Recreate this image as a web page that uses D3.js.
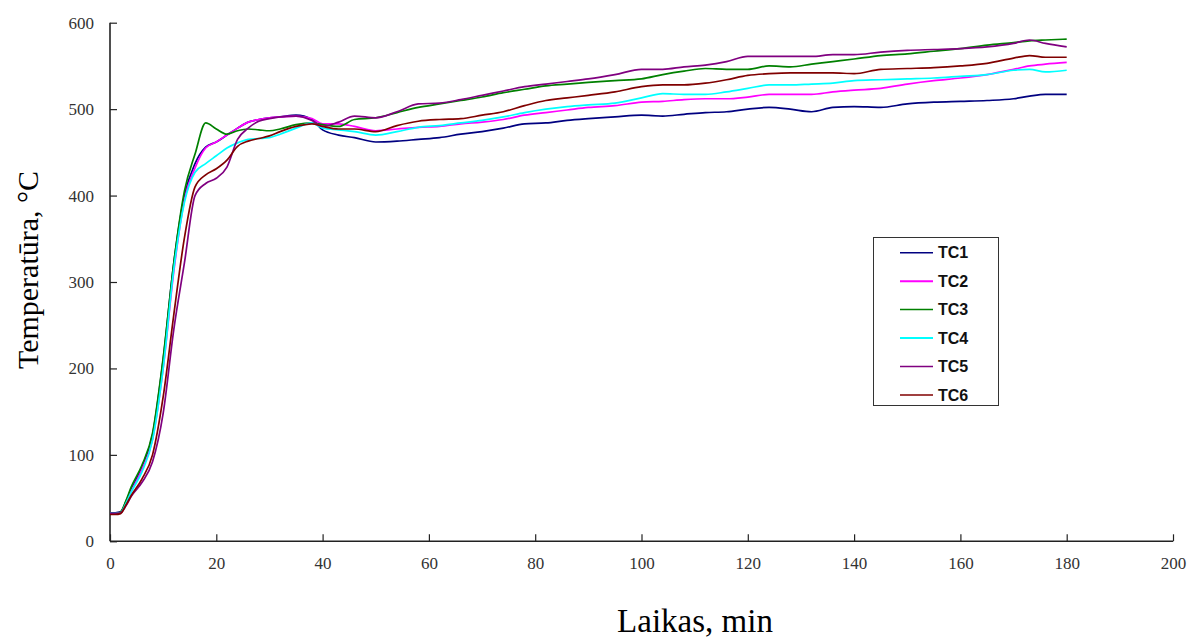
<!DOCTYPE html>
<html>
<head>
<meta charset="utf-8">
<script src="https://cdn.jsdelivr.net/npm/d3@7"></script>
<style>
  html, body { margin: 0; padding: 0; background: #fff; }
  svg { display: block; }
</style>
</head>
<body>
<svg id="chart" width="1189" height="640"></svg>
<script>
// Time grid, minutes
const times = [0,1,2,3,4,6,8,10,12,14,16,18, 20,22,24,26,28,30,32,35,38,40,
  43,46,50,54,58,62,66,70,74,78, 82,86,90,95,100,104,108,112,116,120,
  124,128,132,136,140,145,150,155,160,165, 170,173,176,180];

// Thermocouple readings, °C
const tc1 = [33,33,34,46,60,86,123,210,322,400,437,456, 462,470,478,485,488,490,491,493,488,476,
  470,467,462,463,465,467,471,474,478,483, 484,487,489,491,493,492,494,496,497,500,
  502,500,497,502,503,502,506,508,509,510, 512,515,517,517];
const tc2 = [32,32,33,45,58,83,118,200,312,395,432,455, 462,470,478,485,488,490,491,492,489,483,
  483,480,475,477,479,480,483,485,488,493, 496,499,502,504,508,509,511,512,512,514,
  517,517,517,520,522,524,529,533,536,540, 546,550,552,554];
const tc3 = [32,32,34,47,63,88,125,212,322,405,448,484, 477,471,475,477,476,475,477,482,484,482,
  480,488,490,496,502,506,510,514,519,523, 527,529,531,533,535,540,544,547,546,546,
  550,549,552,555,558,562,564,567,570,574, 577,579,580,581];
const tc4 = [32,32,33,44,57,80,117,200,315,392,427,437, 446,455,461,465,466,467,471,478,484,478,
  476,474,470,474,479,481,484,487,491,496, 500,503,505,507,513,518,517,517,520,524,
  528,528,529,530,533,534,535,536,538,540, 545,546,543,545];
const tc5 = [32,32,33,41,52,68,92,148,245,322,400,414, 420,433,465,478,486,489,491,492,487,480,
  485,492,490,497,506,507,511,516,521,526, 529,532,535,540,546,546,549,551,555,561,
  561,561,561,563,563,566,568,569,570,572, 576,580,576,572];
const tc6 = [31,31,32,42,53,72,100,167,262,351,410,424, 431,441,457,463,466,469,474,480,483,480,
  477,477,474,481,486,488,489,493,497,504, 510,513,516,520,526,528,528,530,534,539,
  541,542,542,542,541,546,547,548,550,553, 559,562,560,560];

const seriesNames = ["TC1","TC2","TC3","TC4","TC5","TC6"];
const seriesColors = ["#000080","#ff00ff","#008000","#00ffff","#800080","#800000"];
const xTicks = [0,20,40,60,80,100,120,140,160,180,200];
const yTicks = [0,100,200,300,400,500,600];

const seriesValues = [tc1, tc2, tc3, tc4, tc5, tc6];

const svg = d3.select("#chart");
const x = d3.scaleLinear().domain([0, 200]).range([110, 1173]);
const y = d3.scaleLinear().domain([0, 600]).range([541.3, 22.7]);

const tickFont = "'Liberation Serif', 'Times New Roman', serif";

// X axis, ticks pointing into the plot
const xAxis = svg.append("g")
  .attr("transform", `translate(0,${y(0)})`)
  .call(d3.axisBottom(x).tickValues(xTicks).tickSize(-7).tickPadding(16).tickFormat(d3.format("d")));
xAxis.select(".domain").attr("stroke", "#222").attr("stroke-width", 1.6).attr("d", `M${x(0)},0H${x(200)}`);
xAxis.selectAll(".tick line").attr("stroke", "#222").attr("stroke-width", 1.2);
xAxis.selectAll(".tick text").attr("font-family", tickFont).attr("font-size", 17).attr("fill", "#333");

// Y axis, ticks pointing into the plot
const yAxis = svg.append("g")
  .attr("transform", `translate(${x(0)},0)`)
  .call(d3.axisLeft(y).tickValues(yTicks).tickSize(-7).tickPadding(16).tickFormat(d3.format("d")));
yAxis.select(".domain").attr("stroke", "#222").attr("stroke-width", 1.6).attr("d", `M0,${y(0)}V${y(600)}`);
yAxis.selectAll(".tick line").attr("stroke", "#222").attr("stroke-width", 1.2);
yAxis.selectAll(".tick text").attr("font-family", tickFont).attr("font-size", 17).attr("fill", "#333");

// Series lines
const line = d3.line()
  .x((d, i) => x(times[i]))
  .y(d => y(d))
  .curve(d3.curveMonotoneX);

svg.append("g").selectAll("path")
  .data(seriesValues)
  .join("path")
  .attr("d", line)
  .attr("fill", "none")
  .attr("stroke", (d, i) => seriesColors[i])
  .attr("stroke-width", 1.7)
  .attr("stroke-linejoin", "round");

// Axis titles
svg.append("text")
  .attr("transform", "translate(38,270) rotate(-90)")
  .attr("text-anchor", "middle")
  .attr("font-family", "'Liberation Serif', 'Times New Roman', serif")
  .attr("font-size", 30)
  .attr("fill", "#000")
  .text("Temperatūra, °C");

svg.append("text")
  .attr("x", 695)
  .attr("y", 632)
  .attr("text-anchor", "middle")
  .attr("font-family", "'Liberation Serif', 'Times New Roman', serif")
  .attr("font-size", 33)
  .attr("fill", "#000")
  .text("Laikas, min");

// Legend
const legend = svg.append("g");
legend.append("rect")
  .attr("x", 873.5).attr("y", 237.5)
  .attr("width", 125).attr("height", 168)
  .attr("fill", "#fff").attr("stroke", "#333").attr("stroke-width", 1);

const rows = legend.selectAll("g.row")
  .data(seriesNames)
  .join("g")
  .attr("class", "row")
  .attr("transform", (d, i) => `translate(0,${252.7 + i * 28.45})`);
rows.append("line")
  .attr("x1", 900).attr("x2", 933)
  .attr("y1", 0).attr("y2", 0)
  .attr("stroke", (d, i) => seriesColors[i])
  .attr("stroke-width", (d, i) => (i === 1 || i === 3) ? 2 : 1.5);
rows.append("text")
  .attr("x", 938).attr("y", 0)
  .attr("dy", "0.36em")
  .attr("font-family", "'Liberation Sans', Arial, sans-serif")
  .attr("font-weight", "bold")
  .attr("font-size", 16)
  .attr("fill", "#111")
  .text(d => d);
</script>
</body>
</html>
